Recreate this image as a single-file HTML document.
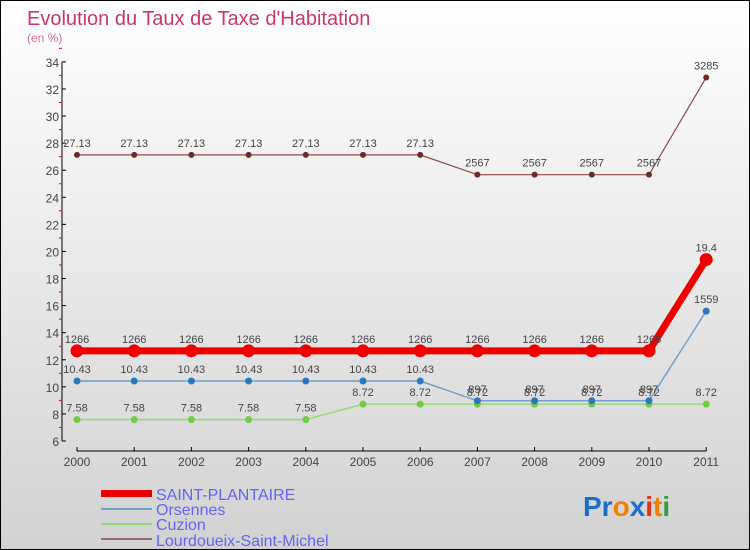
<!DOCTYPE html>
<html><head><meta charset="utf-8"><style>
body{margin:0}
#c{width:748px;height:548px;border:1px solid #000;background:linear-gradient(#ffffff,#d2d2d2);position:relative;font-family:"Liberation Sans",sans-serif;overflow:hidden}
svg text{font-family:"Liberation Sans",sans-serif}
</style></head><body>
<div id="c">
<svg id="s" width="748" height="548">
<text x="26" y="24" font-size="20" fill="#c8386c">Evolution du Taux de Taxe d'Habitation</text>
<text x="26" y="41" font-size="12" fill="#d0709a">(en %)</text>
<g id="axes"></g><g id="series"></g>
<g font-size="16" fill="#6464f0">
<rect x="100" y="489" width="51" height="7" fill="#ee0000"/>
<text x="155" y="499">SAINT-PLANTAIRE</text>
<rect x="100" y="507" width="51" height="2" fill="#74a4cc"/>
<text x="155" y="514">Orsennes</text>
<rect x="100" y="522" width="51" height="2" fill="#90d870"/>
<text x="155" y="529">Cuzion</text>
<rect x="100" y="537" width="51" height="2" fill="#9a6a6a"/>
<text x="155" y="545">Lourdoueix-Saint-Michel</text>
</g>
<g font-size="28" font-weight="bold" font-family="Liberation Sans">
<text x="582" y="515"><tspan fill="#1a70c8">Pr</tspan><tspan fill="#f08000">o</tspan><tspan fill="#1a70c8">x</tspan><tspan fill="#e83010">i</tspan><tspan fill="#f08000">t</tspan><tspan fill="#30a040">i</tspan></text>
</g>
</svg></div>
<script>
const years=["2000","2001","2002","2003","2004","2005","2006","2007","2008","2009","2010","2011"];
const yTicks=[6,8,10,12,14,16,18,20,22,24,26,28,30,32,34];
const saintPlantaire=[12.66,12.66,12.66,12.66,12.66,12.66,12.66,12.66,12.66,12.66,12.66,19.4];
const orsennes=[10.43,10.43,10.43,10.43,10.43,10.43,10.43,8.97,8.97,8.97,8.97,15.59];
const cuzion=[7.58,7.58,7.58,7.58,7.58,8.72,8.72,8.72,8.72,8.72,8.72,8.72];
const lourdoueix=[27.13,27.13,27.13,27.13,27.13,27.13,27.13,25.67,25.67,25.67,25.67,32.85];
const NS="http://www.w3.org/2000/svg";
const X=i=>76+i*57.2, Y=v=>440-(v-6)*13.54;
function mk(t,a,p){const e=document.createElementNS(NS,t);for(const k in a)e.setAttribute(k,a[k]);p.appendChild(e);return e;}
const ax=document.getElementById('axes'), se=document.getElementById('series');
let e=mk('line',{x1:61,y1:Y(34),x2:61,y2:440,stroke:'#000'},ax);


e=mk('line',{x1:X(0),y1:450,x2:X(11),y2:450,stroke:'#000'},ax);


yTicks.forEach(v=>{mk('line',{x1:61,y1:Y(v),x2:65,y2:Y(v),stroke:'#000'},ax);
 mk('line',{x1:58,y1:Y(v+1),x2:61,y2:Y(v+1),stroke:'#e00'},ax);
 const t=mk('text',{x:58,y:Y(v)+5,'text-anchor':'end','font-size':12,fill:'#444'},ax);t.textContent=v;
 
 });
years.forEach((y,i)=>{mk('line',{x1:X(i),y1:446,x2:X(i),y2:450,stroke:'#000'},ax);
 const t=mk('text',{x:X(i),y:465,'text-anchor':'middle','font-size':12,fill:'#444'},ax);t.textContent=y;
 
 });
function series(d,name,col,w,r,dot,lab){
 const g=mk('g',{},se);
 
 
 mk('polyline',{points:d.map((v,i)=>X(i)+','+Y(v)).join(' '),fill:'none',stroke:col,'stroke-width':w},g);
 d.forEach((v,i)=>{const c=mk('circle',{cx:X(i),cy:Y(v),r:r,fill:dot},g);
  
  
  const t=mk('text',{x:X(i),y:Y(v)-8,'text-anchor':'middle','font-size':11,fill:'#444'},g);t.textContent=lab(v);
  
  });
}
const f=v=>String(v).replace('.','');
series(lourdoueix,'lourdoueix','#8a4a4a',1.2,3,'#6a2a2a',v=>v===27.13?v.toFixed(2):f(v));
series(cuzion,'cuzion','#98d878',1.5,3.5,'#70cc40',v=>v.toFixed(2));
series(orsennes,'orsennes','#70a0cc',1.5,3.5,'#2a78c0',v=>v===10.43?v.toFixed(2):f(v));
series(saintPlantaire,'saint-plantaire','#ee0000',7,6.5,'#ee0000',v=>v===19.4?'19.4':f(v));
</script>
</body></html>
